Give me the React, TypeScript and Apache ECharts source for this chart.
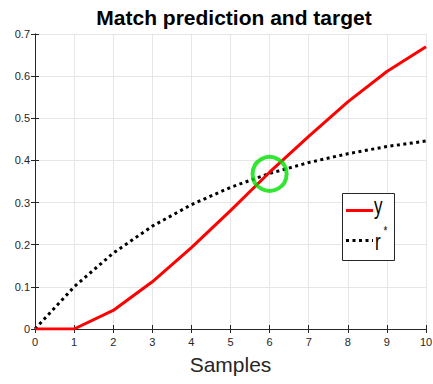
import React, { useEffect, useRef } from "react";
import * as echarts from "echarts";

// Sample index on the horizontal axis
const samples = [0, 1, 2, 3, 4, 5, 6, 7, 8, 9, 10];
// Predicted output y
const yValues = [0, 0, 0.044, 0.112, 0.193, 0.281, 0.372, 0.457, 0.539, 0.611, 0.67];
// Reference target r*
const rValues = [0, 0.1, 0.18, 0.244, 0.295, 0.336, 0.369, 0.395, 0.416, 0.433, 0.446];
// Point where prediction meets target
const matchPoint = [6, 0.368];

const FONT = "Liberation Sans, Arial, Helvetica, sans-serif";
const AXIS_COLOR = "#262626";
const RED = "#ff0000";
const DOT: number[] = [3, 3.5];

export default function App() {
  const ref = useRef<HTMLDivElement>(null);

  useEffect(() => {
    if (!ref.current) return;
    const chart = echarts.init(ref.current, null, { renderer: "svg" });

    const axisLine = { show: true, lineStyle: { color: AXIS_COLOR, width: 1 } };
    const axisTick = { show: true, inside: true, length: 4, lineStyle: { color: AXIS_COLOR } };
    const splitLine = { show: true, lineStyle: { color: "#e6e6e6", width: 1 } };

    // boxed legend in the lower right of the axes
    const legendX = 342;
    const legendY = 193;
    const legendText = (text: string, x: number, y: number, size: number) => ({
      type: "text",
      x,
      y,
      scaleY: 1.4,
      style: {
        text,
        fontFamily: FONT,
        fontSize: size,
        fill: "#000",
        textVerticalAlign: "bottom",
        verticalAlign: "bottom",
      },
    });

    chart.setOption({
      animation: false,
      backgroundColor: "#ffffff",
      title: {
        text: "Match prediction and target",
        left: 229,
        textAlign: "center",
        top: 2,
        textStyle: { fontFamily: FONT, fontSize: 21, fontWeight: "bold", color: "#000" },
      },
      grid: { left: 35, right: 7, top: 34, bottom: 55, outerBoundsMode: "none", containLabel: false },
      graphic: [
        {
          type: "rect",
          shape: { x: legendX + 0.5, y: legendY + 0.5, width: 52, height: 67 },
          style: { fill: "#fff", stroke: AXIS_COLOR, lineWidth: 1 },
          z: 10,
        },
        {
          type: "line",
          shape: { x1: 346, y1: 210.5, x2: 373, y2: 210.5 },
          style: { stroke: RED, lineWidth: 3 },
          z: 11,
        },
        {
          type: "line",
          shape: { x1: 346, y1: 240.5, x2: 373, y2: 240.5 },
          style: { stroke: "#000", lineWidth: 3, lineDash: DOT },
          z: 11,
        },
        { ...legendText("y", 374, 217.5, 17), z: 11 },
        { ...legendText("r", 375, 253, 17), z: 11 },
        { ...legendText("*", 383.5, 236.5, 10), scaleY: 1.2, z: 11 },
      ],
      xAxis: [
        {
          type: "value",
          min: 0,
          max: 10,
          interval: 1,
          name: "Samples",
          nameLocation: "middle",
          nameGap: 25,
          nameTextStyle: { fontFamily: FONT, fontSize: 21, color: AXIS_COLOR },
          axisLine,
          axisTick,
          splitLine,
          axisLabel: { fontFamily: FONT, fontSize: 11, color: AXIS_COLOR, margin: 7 },
        },
        {
          type: "value",
          position: "top",
          min: 0,
          max: 10,
          interval: 1,
          axisLine,
          axisTick,
          splitLine: { show: false },
          axisLabel: { show: false },
        },
      ],
      yAxis: [
        {
          type: "value",
          min: 0,
          max: 0.7,
          interval: 0.1,
          axisLine,
          axisTick,
          splitLine,
          axisLabel: {
            fontFamily: FONT,
            fontSize: 11,
            color: AXIS_COLOR,
            margin: 5,
            formatter: (v: number) => (Math.round(v * 10) / 10).toString(),
          },
        },
        {
          type: "value",
          position: "right",
          min: 0,
          max: 0.7,
          interval: 0.1,
          axisLine,
          axisTick,
          splitLine: { show: false },
          axisLabel: { show: false },
        },
      ],
      series: [
        {
          name: "y",
          type: "line",
          data: samples.map((s, i) => [s, yValues[i]]),
          symbol: "none",
          lineStyle: { color: RED, width: 3 },
          z: 3,
        },
        {
          name: "r*",
          type: "line",
          data: samples.map((s, i) => [s, rValues[i]]),
          symbol: "none",
          lineStyle: { color: "#000000", width: 3, type: DOT },
          z: 2,
        },
        {
          name: "match",
          type: "scatter",
          data: [matchPoint],
          symbol: "circle",
          symbolSize: 34,
          itemStyle: { color: "rgba(0,0,0,0)", borderColor: "#00e000", borderWidth: 4 },
          z: 4,
          silent: true,
        },
      ],
    });

    return () => chart.dispose();
  }, []);

  return (
    <div
      ref={ref}
      style={{ position: "absolute", left: 0, top: 0, width: 433, height: 384 }}
    />
  );
}
